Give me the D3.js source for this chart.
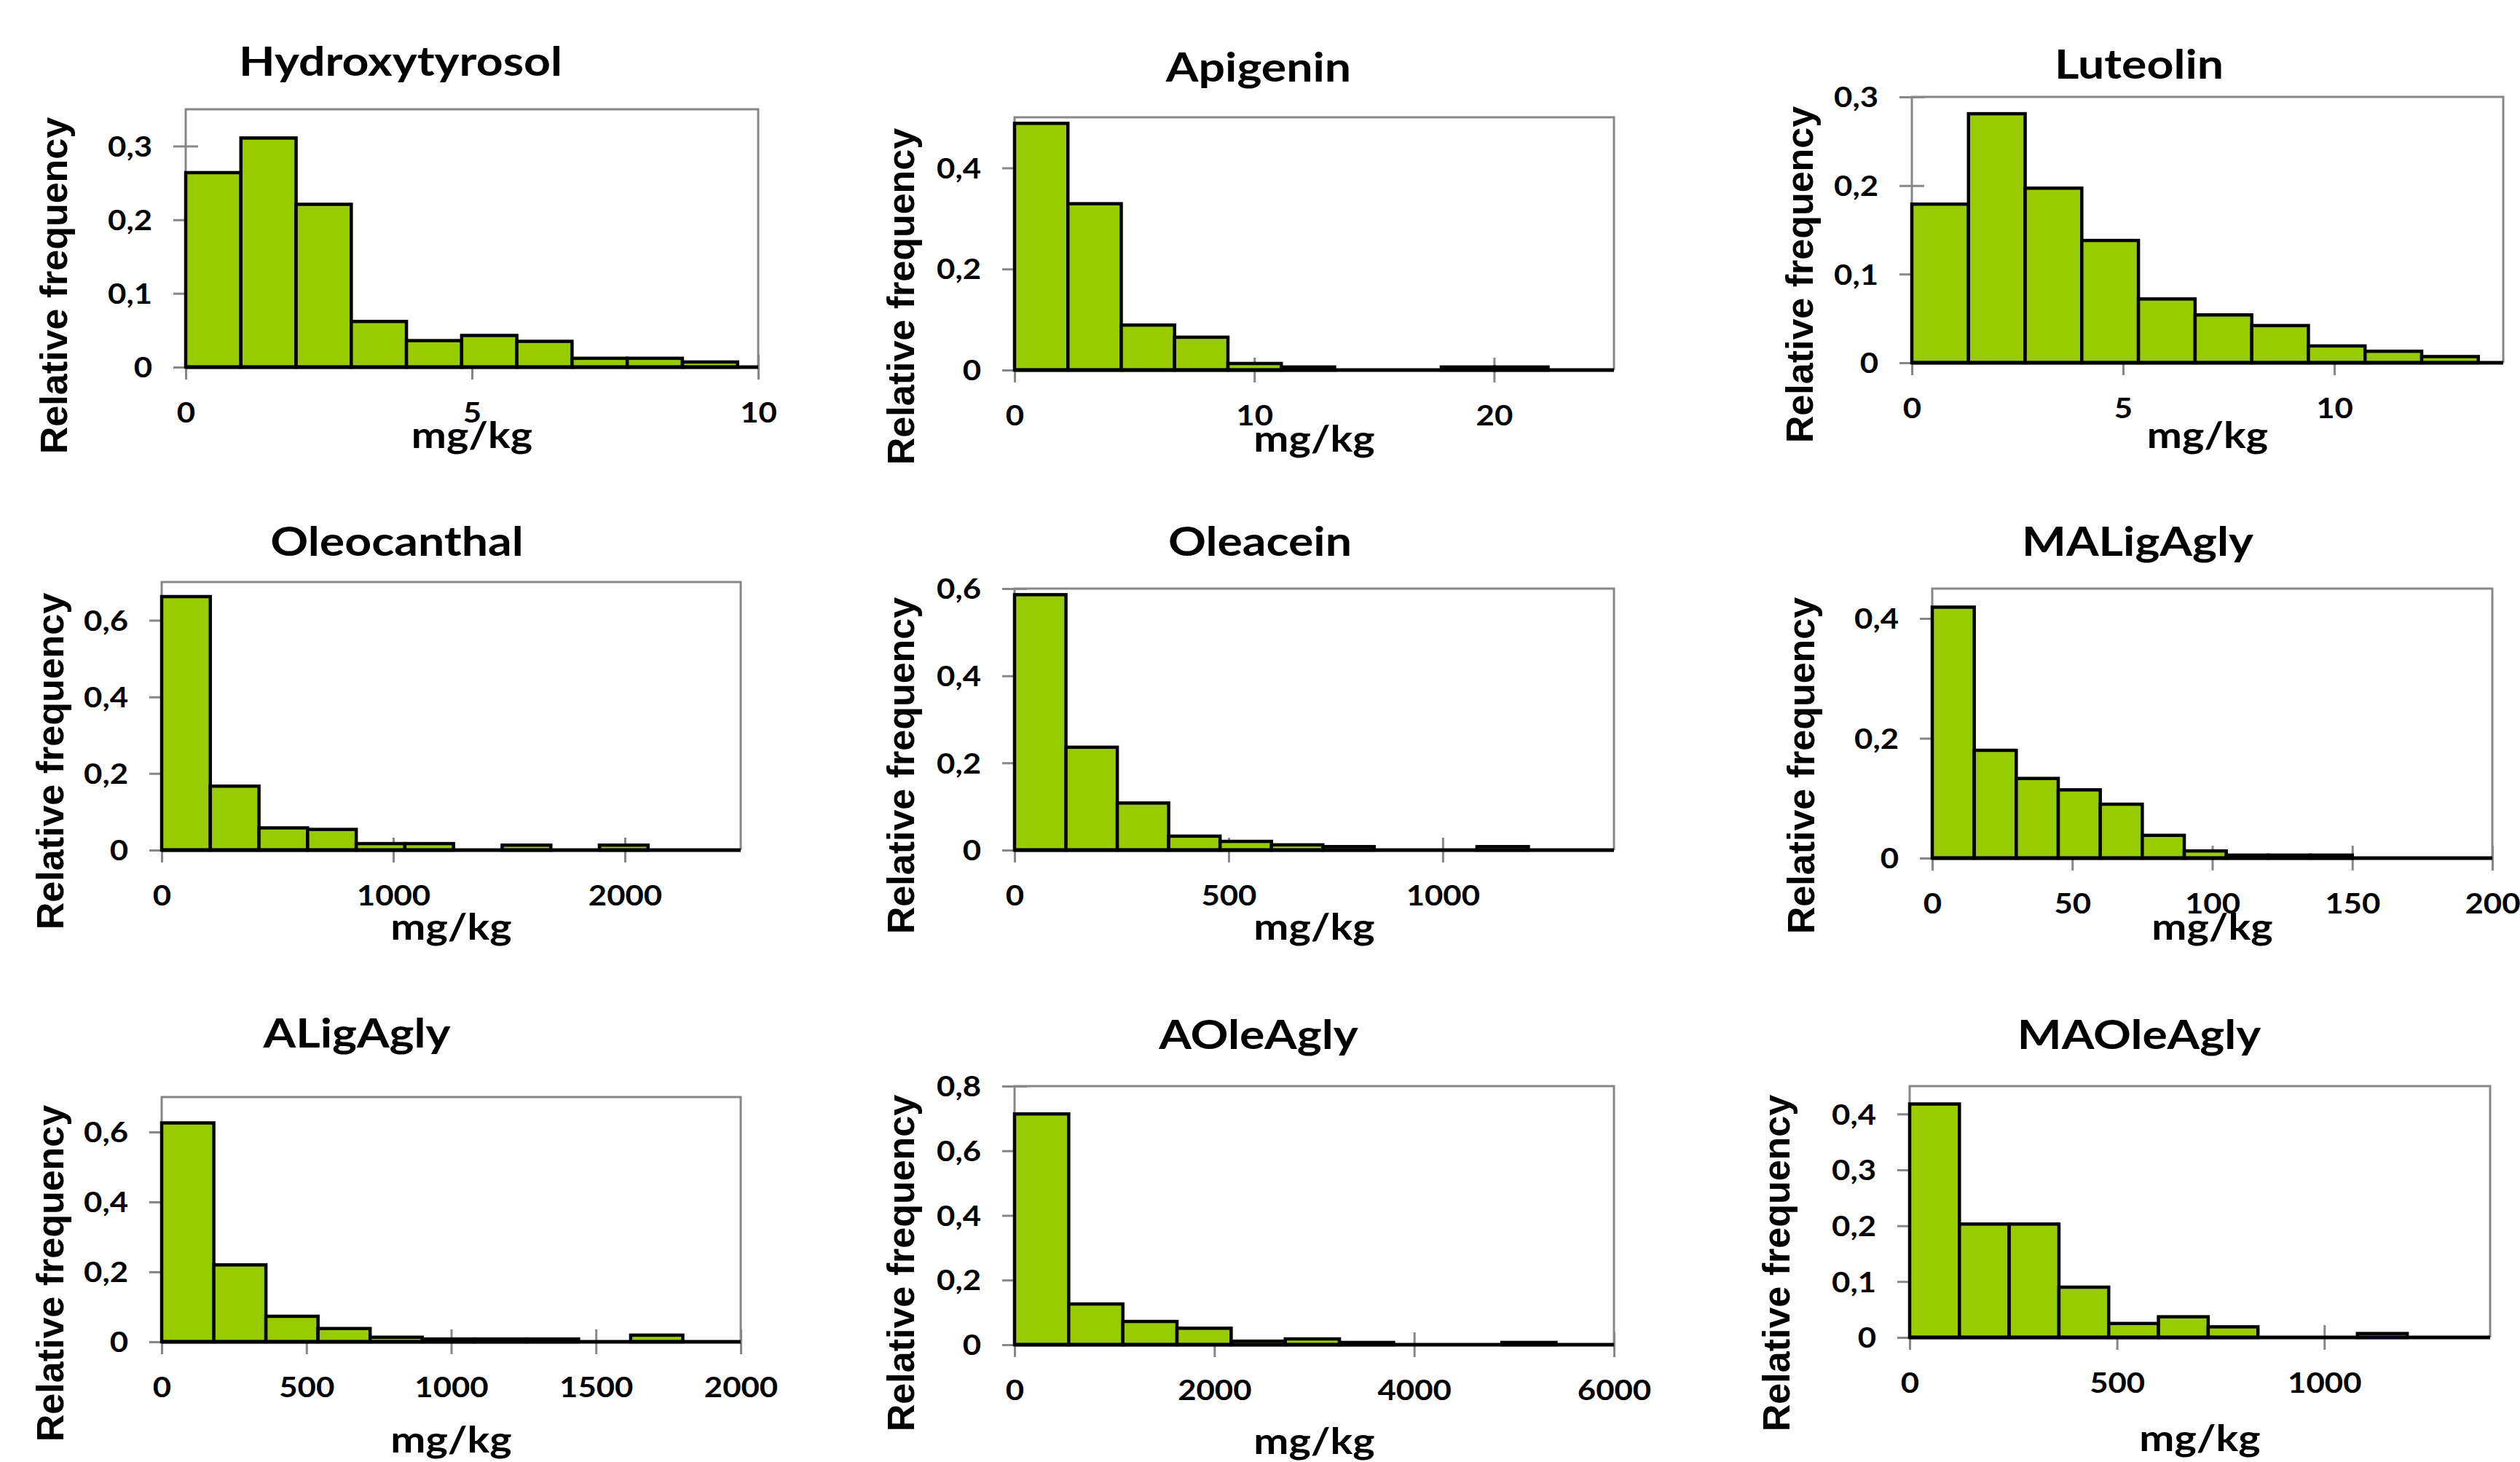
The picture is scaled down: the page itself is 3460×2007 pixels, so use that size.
<!DOCTYPE html>
<html>
<head>
<meta charset="utf-8">
<script src="https://cdn.jsdelivr.net/npm/d3@7"></script>
<style>
  html, body { margin: 0; padding: 0; background: #fff; }
  svg { display: block; }
</style>
</head>
<body>
<svg id="chart" width="3460" height="2007"></svg>
<script>
// -------- Data --------
const titles = ["Hydroxytyrosol", "Apigenin", "Luteolin",
                "Oleocanthal", "Oleacein", "MALigAgly",
                "ALigAgly", "AOleAgly", "MAOleAgly"];

// width of one histogram class, mg/kg
const binWidths = [0.964, 2.225, 1.341, 210, 120, 15, 180, 542, 120];

// relative frequency of each class
const hydroxytyrosol = [0.264, 0.311, 0.221, 0.062, 0.036, 0.043, 0.035, 0.012, 0.012, 0.007];
const apigenin       = [0.488, 0.329, 0.089, 0.065, 0.013, 0.006, 0, 0, 0.006, 0.006];
const luteolin       = [0.179, 0.281, 0.197, 0.138, 0.072, 0.054, 0.042, 0.019, 0.013, 0.007];
const oleocanthal    = [0.662, 0.167, 0.058, 0.054, 0.017, 0.017, 0, 0.013, 0, 0.013];
const oleacein       = [0.586, 0.236, 0.108, 0.032, 0.020, 0.012, 0.008, 0, 0, 0.008];
const maligagly      = [0.419, 0.180, 0.133, 0.114, 0.090, 0.038, 0.012, 0.005, 0.005, 0.005];
const aligagly       = [0.626, 0.220, 0.073, 0.038, 0.013, 0.008, 0.008, 0.008, 0, 0.019];
const aoleagly       = [0.714, 0.126, 0.072, 0.051, 0.011, 0.018, 0.007, 0, 0, 0.007];
const maoleagly      = [0.418, 0.203, 0.203, 0.090, 0.025, 0.037, 0.019, 0, 0, 0.007];
const freqs = [hydroxytyrosol, apigenin, luteolin, oleocanthal, oleacein,
               maligagly, aligagly, aoleagly, maoleagly];

// axis extents and tick values
const xMax = [10, 25, 14, 2500, 1400, 200, 2000, 6000, 1400];
const yMax = [0.35, 0.5, 0.3, 0.7, 0.6, 0.45, 0.7, 0.8, 0.45];
const xTicks = [[0, 5, 10], [0, 10, 20], [0, 5, 10], [0, 1000, 2000], [0, 500, 1000],
                [0, 50, 100, 150, 200], [0, 500, 1000, 1500, 2000], [0, 2000, 4000, 6000], [0, 500, 1000]];
const yTicks = [[0, 0.1, 0.2, 0.3], [0, 0.2, 0.4], [0, 0.1, 0.2, 0.3], [0, 0.2, 0.4, 0.6], [0, 0.2, 0.4, 0.6],
                [0, 0.2, 0.4], [0, 0.2, 0.4, 0.6], [0, 0.2, 0.4, 0.6, 0.8], [0, 0.1, 0.2, 0.3, 0.4]];

const xLabel = "mg/kg";
const yLabel = "Relative frequency";

// -------- Layout (pixels) --------
// box: [left, top, right, zero line]; title: [center x, baseline]; ylab: [center x, center y]
const layout = [
  { box: [255, 150, 1041, 504],   title: [550, 104],   ylab: [73, 392],    xlab: 96 },
  { box: [1393, 161, 2216, 508],  title: [1728, 112],  ylab: [1236, 407],  xlab: 97 },
  { box: [2625, 133, 3437, 498],  title: [2937, 108],  ylab: [2470, 377],  xlab: 102 },
  { box: [222, 799, 1017, 1167],  title: [545, 763],   ylab: [68, 1045],   xlab: 108 },
  { box: [1393, 808, 2216, 1167], title: [1730, 763],  ylab: [1236, 1051], xlab: 108 },
  { box: [2653, 808, 3422, 1178], title: [2935, 763],  ylab: [2472, 1051], xlab: 97 },
  { box: [222, 1506, 1017, 1842], title: [490, 1438],  ylab: [68, 1748],   xlab: 137 },
  { box: [1393, 1491, 2216, 1846],title: [1728, 1440], ylab: [1236, 1734], xlab: 135 },
  { box: [2622, 1491, 3419, 1836],title: [2937, 1440], ylab: [2438, 1734], xlab: 141 }
];

const S = 1.15;              // horizontal stretch of Calibri-like text
const font = "Lato, 'Open Sans', sans-serif";
const gridGrey = "#878787";

const fmt = d3.formatLocale({ decimal: ",", thousands: "", grouping: [3], currency: ["", ""] }).format("~g");

const svg = d3.select("#chart");

titles.forEach((name, i) => {
  const L = layout[i];
  const [left, top, right, zero] = L.box;

  const x = d3.scaleLinear().domain([0, xMax[i]]).range([left, right]);
  const y = d3.scaleLinear().domain([0, yMax[i]]).range([zero, top]);

  const g = svg.append("g");

  // plot frame (grey)
  g.append("path")
    .attr("d", `M${left},${zero}V${top}H${right}V${zero}`)
    .attr("fill", "none")
    .attr("stroke", gridGrey)
    .attr("stroke-width", 3);

  // y axis
  const ya = g.append("g")
    .attr("transform", `translate(${left},0)`)
    .call(d3.axisLeft(y).tickValues(yTicks[i]).tickFormat(fmt).tickSize(0));
  ya.select(".domain").remove();
  ya.attr("font-family", font).attr("font-size", 38).attr("font-weight", 700);
  ya.selectAll(".tick line")
    .attr("x1", -17).attr("x2", 17)
    .attr("stroke", gridGrey).attr("stroke-width", 3);
  ya.selectAll(".tick text")
    .attr("fill", "#000")
    .attr("x", -46 / S)
    .attr("dy", "0.36em")
    .attr("transform", `scale(${S},1)`);

  // x axis
  const xa = g.append("g")
    .attr("transform", `translate(0,${zero})`)
    .call(d3.axisBottom(x).tickValues(xTicks[i]).tickFormat(fmt).tickSize(0));
  xa.select(".domain").remove();
  xa.attr("font-family", font).attr("font-size", 38).attr("font-weight", 700);
  xa.selectAll(".tick line")
    .attr("y1", -17).attr("y2", 17)
    .attr("stroke", gridGrey).attr("stroke-width", 3);
  xa.selectAll(".tick text")
    .attr("fill", "#000")
    .attr("y", 62)
    .attr("dy", "0.36em")
    .attr("transform", `scale(${S},1)`);

  // histogram bars
  const bins = freqs[i].map((f, k) => ({ x0: k * binWidths[i], x1: (k + 1) * binWidths[i], f }));
  g.append("g")
    .selectAll("rect")
    .data(bins.filter(d => d.f > 0))
    .join("rect")
    .attr("x", d => x(d.x0))
    .attr("width", d => x(d.x1) - x(d.x0))
    .attr("y", d => y(d.f))
    .attr("height", d => y(0) - y(d.f))
    .attr("fill", "#99cc00")
    .attr("stroke", "#000")
    .attr("stroke-width", 4.5);

  // baseline
  g.append("line")
    .attr("x1", left).attr("x2", right)
    .attr("y1", y(0)).attr("y2", y(0))
    .attr("stroke", "#000")
    .attr("stroke-width", 5);

  // title
  g.append("text")
    .attr("transform", `translate(${L.title[0]},${L.title[1]}) scale(${S},1)`)
    .attr("text-anchor", "middle")
    .attr("font-family", font)
    .attr("font-weight", 700)
    .attr("font-size", 56)
    .text(name);

  // x axis title
  g.append("text")
    .attr("transform", `translate(${(left + right) / 2},${zero + L.xlab}) scale(${S},1)`)
    .attr("text-anchor", "middle")
    .attr("dy", "0.3em")
    .attr("font-family", font)
    .attr("font-weight", 700)
    .attr("font-size", 50)
    .text(xLabel);

  // y axis title
  g.append("text")
    .attr("transform", `translate(${L.ylab[0]},${L.ylab[1]}) rotate(-90)`)
    .attr("text-anchor", "middle")
    .attr("dy", "0.36em")
    .attr("font-family", "'Liberation Sans', Arial, sans-serif")
    .attr("font-weight", 700)
    .attr("font-size", 52)
    .text(yLabel);
});
</script>
</body>
</html>
